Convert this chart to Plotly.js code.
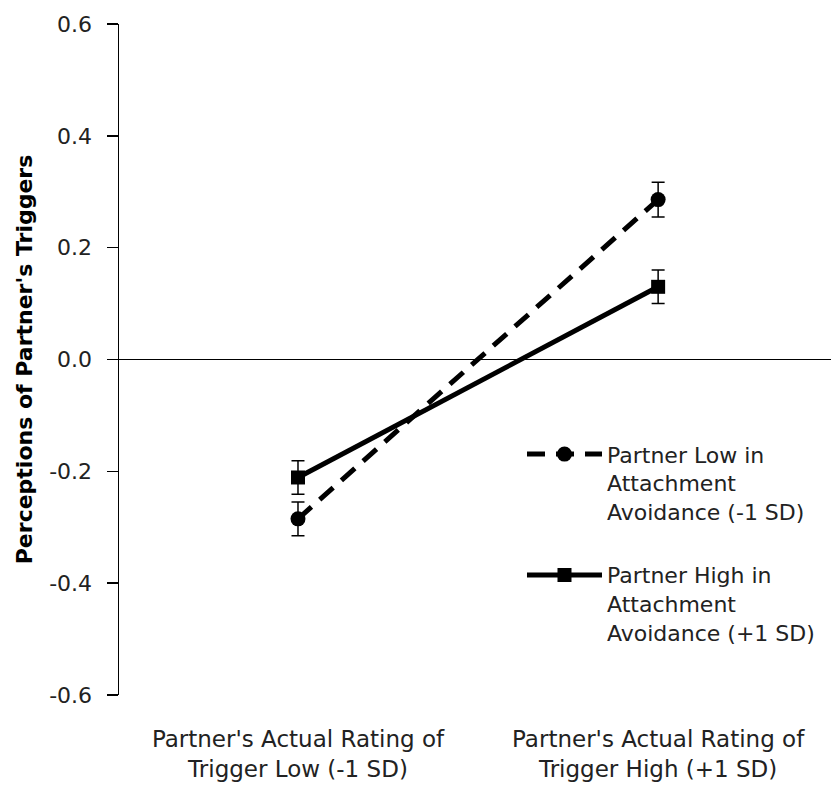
<!DOCTYPE html>
<html>
<head>
<meta charset="utf-8">
<script src="https://cdn.plot.ly/plotly-3.0.1.min.js"></script>
<style>body{margin:0;padding:0;background:#fff;}#chart{width:831px;height:786px;}</style>
</head>
<body>
<div id="chart"></div>
<script>
const categories = [0, 1];
const categoryLabels = ["Partner's Actual Rating of<br>Trigger Low (-1 SD)", "Partner's Actual Rating of<br>Trigger High (+1 SD)"];
const seriesNames = ["Partner Low in<br>Attachment<br>Avoidance (-1 SD)", "Partner High in<br>Attachment<br>Avoidance (+1 SD)"];
const lowAvoidance = [-0.285, 0.286];
const lowAvoidanceErr = [0.03, 0.031];
const highAvoidance = [-0.211, 0.130];
const highAvoidanceErr = [0.03, 0.03];
const yTicks = [-0.6, -0.4, -0.2, 0.0, 0.2, 0.4, 0.6];
const yTickText = ["-0.6", "-0.4", "-0.2", "0.0", "0.2", "0.4", "0.6"];

const font = "DejaVu Sans, sans-serif";

const traces = [
  {
    x: categories, y: lowAvoidance, name: seriesNames[0], legendgroup: 'low', type: 'scatter', mode: 'lines+markers',
    line: {color: '#000', width: 5, dash: '18px,11px'},
    marker: {symbol: 'circle', size: 15, color: '#000'},
    error_y: {type: 'data', array: lowAvoidanceErr, visible: true, color: '#000', thickness: 1.5, width: 6.5}
  },
  {
    x: categories, y: highAvoidance, name: seriesNames[1], legendgroup: 'high', type: 'scatter', mode: 'lines+markers',
    line: {color: '#000', width: 5},
    marker: {symbol: 'square', size: 14, color: '#000'},
    error_y: {type: 'data', array: highAvoidanceErr, visible: true, color: '#000', thickness: 1.5, width: 6.5}
  }
];

const layout = {
  width: 831, height: 786,
  margin: {l: 119, r: 0, t: 24, b: 91},
  paper_bgcolor: '#fff', plot_bgcolor: '#fff',
  font: {family: font, color: '#222', size: 22},
  showlegend: true,
  legend: {
    x: 0.566, y: 0.39, xanchor: 'left', yanchor: 'top',
    font: {family: font, size: 22, color: '#222'},
    itemwidth: 75, valign: 'top', tracegroupgap: 32, bgcolor: 'rgba(0,0,0,0)'
  },
  xaxis: {
    range: [-0.497, 1.48],
    tickvals: categories, ticktext: categoryLabels,
    showline: false, showgrid: false, zeroline: false, ticks: '',
    tickfont: {family: font, size: 23, color: '#222'},
    ticklabelstandoff: 28, fixedrange: true
  },
  yaxis: {
    range: [-0.6, 0.6],
    tickvals: yTicks, ticktext: yTickText,
    showline: true, linecolor: '#000', linewidth: 1.5,
    ticks: 'outside', ticklen: 11, tickwidth: 1.5, tickcolor: '#000',
    showgrid: false, zeroline: true, zerolinecolor: '#000', zerolinewidth: 1.5,
    tickfont: {family: font, size: 22, color: '#222'},
    ticklabelstandoff: 10,
    title: {text: "<b>Perceptions of Partner's Triggers</b>", font: {family: font, size: 22, color: '#000'}, standoff: 10}
  }
};

Plotly.newPlot('chart', traces, layout, {displayModeBar: false, staticPlot: true});
</script>
</body>
</html>
